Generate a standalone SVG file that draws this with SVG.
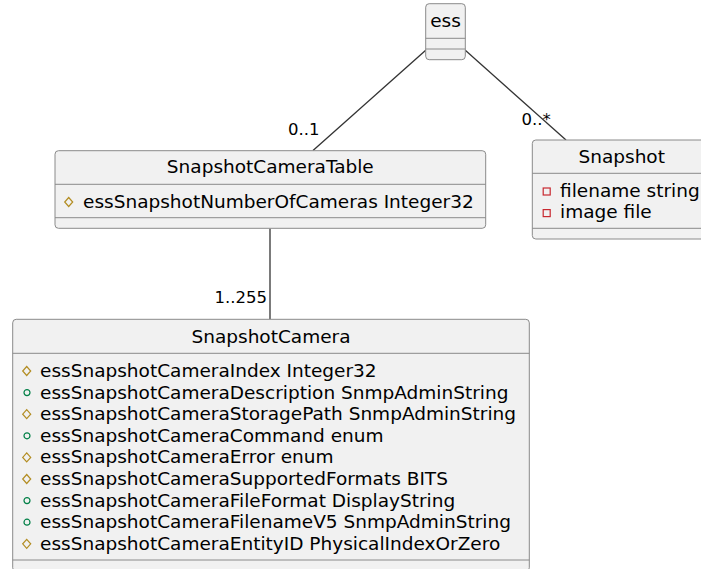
<svg xmlns="http://www.w3.org/2000/svg" xmlns:xlink="http://www.w3.org/1999/xlink" width="701" height="569" viewBox="0 0 701 569">
  <style>
    .box { fill: #F1F1F1; stroke: #8a8a8a; stroke-width: 1; }
    .sep { stroke: #8a8a8a; stroke-width: 1; fill: none; }
    .title { font-family: "DejaVu Sans", Verdana, sans-serif; font-size: 18.5px; fill: #000; text-anchor: middle; }
    .attr { font-family: "DejaVu Sans", Verdana, sans-serif; font-size: 18.5px; fill: #000; }
    .mult { font-family: "DejaVu Sans", Verdana, sans-serif; font-size: 16.5px; fill: #000; }
    .link { stroke: #333; stroke-width: 1.3; fill: none; }
  </style>
  <defs>
    <!-- visibility icons: protected, public, private -->
    <polygon id="prot" points="0,-4.5 4,0 0,4.5 -4,0" fill="none" stroke="#B38D22" stroke-width="1.2"/>
    <circle id="pub" r="3" fill="none" stroke="#038048" stroke-width="1.2"/>
    <rect id="priv" x="-3.5" y="-3.5" width="7" height="7" fill="none" stroke="#C82930" stroke-width="1.2"/>
  </defs>

  <g id="connectors">
    <line class="link" x1="426" y1="50" x2="313" y2="150.5"/>
    <text class="mult" x="288" y="135">0..1</text>
    <line class="link" x1="465" y1="50" x2="566" y2="140"/>
    <text class="mult" x="521.5" y="125">0..*</text>
    <line class="link" x1="270" y1="228.5" x2="270" y2="319.5"/>
    <text class="mult" x="267" y="303" text-anchor="end">1..255</text>
  </g>

  <g id="ess">
    <rect class="box" x="425.7" y="3.7" width="39.6" height="56" rx="3.5"/>
    <text class="title" x="445.5" y="27">ess</text>
    <line class="sep" x1="425.7" y1="38.3" x2="465.3" y2="38.3"/>
    <line class="sep" x1="425.7" y1="49" x2="465.3" y2="49"/>
  </g>

  <g id="SnapshotCameraTable">
    <rect class="box" x="55" y="150.7" width="430.7" height="77.6" rx="3.5"/>
    <text class="title" x="270.3" y="173.3">SnapshotCameraTable</text>
    <line class="sep" x1="55" y1="184.3" x2="485.7" y2="184.3"/>
    <use xlink:href="#prot" x="68.7" y="202"/>
    <text class="attr" x="83" y="208.3">essSnapshotNumberOfCameras Integer32</text>
    <line class="sep" x1="55" y1="217.7" x2="485.7" y2="217.7"/>
  </g>

  <g id="Snapshot">
    <rect class="box" x="532.3" y="140" width="178.7" height="99" rx="3.5"/>
    <text class="title" x="621.7" y="163.3">Snapshot</text>
    <line class="sep" x1="532.3" y1="173.3" x2="711" y2="173.3"/>
    <use xlink:href="#priv" x="546.7" y="191.5"/>
    <text class="attr" x="560" y="196.7">filename string</text>
    <use xlink:href="#priv" x="546.7" y="213.1"/>
    <text class="attr" x="560" y="218.3">image file</text>
    <line class="sep" x1="532.3" y1="228.3" x2="711" y2="228.3"/>
  </g>

  <g id="SnapshotCamera">
    <rect class="box" x="12.7" y="319.3" width="516.6" height="252" rx="3.5"/>
    <text class="title" x="271" y="343">SnapshotCamera</text>
    <line class="sep" x1="12.7" y1="353.3" x2="529.3" y2="353.3"/>
    <use xlink:href="#prot" x="26.7" y="371"/>
    <text class="attr" x="40" y="377">essSnapshotCameraIndex Integer32</text>
    <use xlink:href="#pub" x="27" y="392.6"/>
    <text class="attr" x="40" y="398.6">essSnapshotCameraDescription SnmpAdminString</text>
    <use xlink:href="#prot" x="26.7" y="414.2"/>
    <text class="attr" x="40" y="420.2">essSnapshotCameraStoragePath SnmpAdminString</text>
    <use xlink:href="#pub" x="27" y="435.8"/>
    <text class="attr" x="40" y="441.8">essSnapshotCameraCommand enum</text>
    <use xlink:href="#prot" x="26.7" y="457.4"/>
    <text class="attr" x="40" y="463.4">essSnapshotCameraError enum</text>
    <use xlink:href="#prot" x="26.7" y="479"/>
    <text class="attr" x="40" y="485">essSnapshotCameraSupportedFormats BITS</text>
    <use xlink:href="#pub" x="27" y="500.6"/>
    <text class="attr" x="40" y="506.6">essSnapshotCameraFileFormat DisplayString</text>
    <use xlink:href="#pub" x="27" y="522.2"/>
    <text class="attr" x="40" y="528.2">essSnapshotCameraFilenameV5 SnmpAdminString</text>
    <use xlink:href="#prot" x="26.7" y="543.8"/>
    <text class="attr" x="40" y="549.8">essSnapshotCameraEntityID PhysicalIndexOrZero</text>
    <line class="sep" x1="12.7" y1="560" x2="529.3" y2="560"/>
  </g>
</svg>
